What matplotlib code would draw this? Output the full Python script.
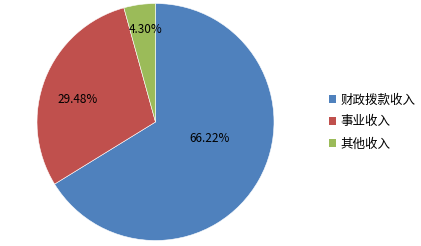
import matplotlib
matplotlib.use('Agg')
import matplotlib.pyplot as plt

plt.rcParams['font.family'] = ['Noto Sans CJK SC', 'DejaVu Sans']

# income shares (percent)
categories = ['财政拨款收入', '事业收入', '其他收入']
shares = [66.22, 29.48, 4.30]
colors = ['#4F81BD', '#C0504D', '#9BBB59']

fig = plt.figure(figsize=(4.21, 2.46), dpi=100)
fig.patch.set_facecolor('white')

# pie axes: centre ~ (155.5, 122) px, radius ~118.5 px
ax = fig.add_axes([37 / 421, 5.5 / 246, 237 / 421, 237 / 246])
wedges, texts, autotexts = ax.pie(
    shares, colors=colors, startangle=90, counterclock=False,
    autopct='%.2f%%', pctdistance=0.6,
    wedgeprops=dict(edgecolor='white', linewidth=0.4),
    textprops=dict(fontsize=8.5, color='black'),
    radius=1.0,
)
ax.set_aspect('equal')
ax.set_xlim(-1, 1)
ax.set_ylim(-1, 1)

# label spots like the Excel original
label_pos = [(0.46, -0.14), (-0.66, 0.19), (-0.08, 0.78)]
for t, p in zip(autotexts, label_pos):
    t.set_position(p)
    t.set_ha('center')
    t.set_va('center')

leg = fig.legend(wedges, categories, loc='center left',
                 bbox_to_anchor=(324 / 421, 1 - 122 / 246),
                 frameon=False, fontsize=9,
                 handlelength=0.55, handleheight=0.55,
                 handletextpad=0.35, labelspacing=0.72,
                 borderaxespad=0)
for h in leg.legend_handles:
    h.set_edgecolor('none')

fig.savefig('out.png', dpi=100)
